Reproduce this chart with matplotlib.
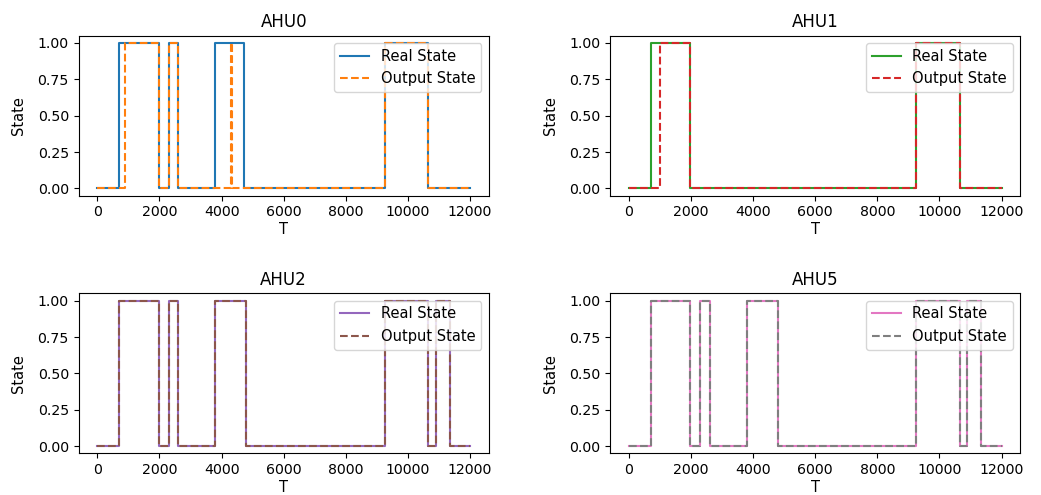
import matplotlib
matplotlib.use("Agg")
import matplotlib.pyplot as plt

# Change points (T) and the state that holds from each point on
ahu0_real_t = [0, 700, 1980, 2300, 2600, 3800, 4730, 9250, 10650, 12000]
ahu0_real_s = [0, 1, 0, 1, 0, 1, 0, 1, 0, 0]
ahu0_out_t = [0, 900, 1980, 2300, 2600, 4300, 4350, 9250, 10650, 12000]
ahu0_out_s = [0, 1, 0, 1, 0, 1, 0, 1, 0, 0]

ahu1_real_t = [0, 700, 1960, 9250, 10650, 12000]
ahu1_real_s = [0, 1, 0, 1, 0, 0]
ahu1_out_t = [0, 1000, 1960, 9250, 10650, 12000]
ahu1_out_s = [0, 1, 0, 1, 0, 0]

ahu2_real_t = [0, 700, 1980, 2300, 2600, 3800, 4800, 9250, 10650, 10900, 11350, 12000]
ahu2_real_s = [0, 1, 0, 1, 0, 1, 0, 1, 0, 1, 0, 0]
ahu2_out_t = ahu2_real_t
ahu2_out_s = ahu2_real_s

ahu5_real_t = [0, 700, 1980, 2300, 2600, 3800, 4800, 9250, 10650, 10900, 11350, 12000]
ahu5_real_s = [0, 1, 0, 1, 0, 1, 0, 1, 0, 1, 0, 0]
ahu5_out_t = ahu5_real_t
ahu5_out_s = ahu5_real_s

titles = ["AHU0", "AHU1", "AHU2", "AHU5"]
series = [
    (ahu0_real_t, ahu0_real_s, ahu0_out_t, ahu0_out_s),
    (ahu1_real_t, ahu1_real_s, ahu1_out_t, ahu1_out_s),
    (ahu2_real_t, ahu2_real_s, ahu2_out_t, ahu2_out_s),
    (ahu5_real_t, ahu5_real_s, ahu5_out_t, ahu5_out_s),
]
colors = [("C0", "C1"), ("C2", "C3"), ("C4", "C5"), ("C6", "C7")]

fig, axes = plt.subplots(2, 2, figsize=(10.41, 4.95), dpi=100)
fig.subplots_adjust(left=0.0756, right=0.980, top=0.928, bottom=0.084,
                    wspace=0.296, hspace=0.61)

for ax, title, (rt, rs, ot, os_), (cr, co) in zip(axes.flat, titles, series, colors):
    ax.step(rt, rs, where="post", color=cr, linestyle="-", label="Real State")
    ax.step(ot, os_, where="post", color=co, linestyle="--", label="Output State")
    ax.set_title(title, fontsize=12)
    ax.set_xlabel("T", labelpad=2, fontsize=10.5)
    ax.set_ylabel("State", labelpad=8, fontsize=10.5)
    ax.set_xticks([0, 2000, 4000, 6000, 8000, 10000, 12000])
    ax.set_yticks([0.0, 0.25, 0.5, 0.75, 1.0])
    ax.tick_params(labelsize=10.2)
    ax.legend(loc="upper right", fontsize=10.5)

fig.savefig("out.png", dpi=100)
